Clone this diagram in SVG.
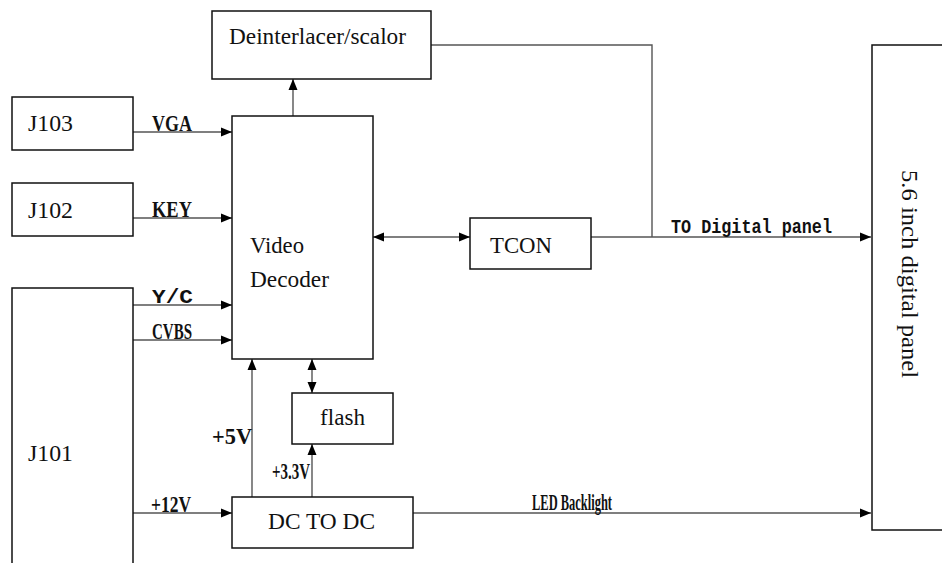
<svg xmlns="http://www.w3.org/2000/svg" width="942" height="563" viewBox="0 0 942 563">
<defs>
<marker id="ah" markerUnits="userSpaceOnUse" markerWidth="12" markerHeight="10" refX="11" refY="5" orient="auto-start-reverse">
<path d="M0,0.5 L11,5 L0,9.5 Z" fill="#000"/>
</marker>
</defs>
<style>
.box{fill:#fff;stroke:#111;stroke-width:1.5}
.lbl{font-family:"Liberation Serif",serif;font-size:23px;fill:#111}
.sig{font-family:"Liberation Serif",serif;font-weight:bold;font-size:24px;fill:#111}
.mono{font-family:"Liberation Mono",monospace;font-weight:bold;font-size:21px;fill:#111}
.ln{fill:none;stroke:#555;stroke-width:1.4}
</style>
<rect width="942" height="563" fill="#fff"/>
<g id="connectors">
<path class="ln" d="M293,116 V79" marker-end="url(#ah)"/>
<path class="ln" d="M133,132 H232" marker-end="url(#ah)"/>
<path class="ln" d="M133,218 H232" marker-end="url(#ah)"/>
<path class="ln" d="M133,305 H232" marker-end="url(#ah)"/>
<path class="ln" d="M133,340 H232" marker-end="url(#ah)"/>
<path class="ln" d="M133,513 H232" marker-end="url(#ah)"/>
<path class="ln" d="M373,237 H470" marker-start="url(#ah)" marker-end="url(#ah)"/>
<path class="ln" d="M591,237 H871" marker-end="url(#ah)"/>
<path class="ln" d="M431,45 H652 V237"/>
<path class="ln" d="M252,497 V359" marker-end="url(#ah)"/>
<path class="ln" d="M312,359 V393" marker-start="url(#ah)" marker-end="url(#ah)"/>
<path class="ln" d="M312,497 V444" marker-end="url(#ah)"/>
<path class="ln" d="M413,513 H871" marker-end="url(#ah)"/>
<text class="sig" x="152" y="131" textLength="40" lengthAdjust="spacingAndGlyphs">VGA</text>
<text class="sig" x="152" y="217" textLength="40" lengthAdjust="spacingAndGlyphs">KEY</text>
<text class="mono" x="152" y="303" textLength="41" lengthAdjust="spacingAndGlyphs">Y/C</text>
<text class="sig" x="152" y="339" textLength="40" lengthAdjust="spacingAndGlyphs">CVBS</text>
<text class="sig" x="212" y="444" font-size="25" textLength="40" lengthAdjust="spacingAndGlyphs">+5V</text>
<text class="sig" x="272" y="479" font-size="23" textLength="38" lengthAdjust="spacingAndGlyphs">+3.3V</text>
<text class="sig" x="151" y="512" textLength="40" lengthAdjust="spacingAndGlyphs">+12V</text>
<text class="mono" x="671" y="233" textLength="161" lengthAdjust="spacingAndGlyphs">TO Digital panel</text>
<text class="sig" x="532" y="510" font-size="17" textLength="80" lengthAdjust="spacingAndGlyphs">LED Backlight</text>
</g>
<g id="deinterlacer">
<rect class="box" x="212" y="11" width="219" height="68"/>
<text class="lbl" x="229" y="44" textLength="177" lengthAdjust="spacingAndGlyphs">Deinterlacer/scalor</text>
</g>
<g id="j103">
<rect class="box" x="12" y="97" width="121" height="53"/>
<text class="lbl" x="28" y="131" textLength="45" lengthAdjust="spacingAndGlyphs">J103</text>
</g>
<g id="j102">
<rect class="box" x="12" y="183" width="121" height="53"/>
<text class="lbl" x="28" y="218" textLength="45" lengthAdjust="spacingAndGlyphs">J102</text>
</g>
<g id="j101">
<rect class="box" x="12" y="288" width="121" height="290"/>
<text class="lbl" x="28" y="461" textLength="45" lengthAdjust="spacingAndGlyphs">J101</text>
</g>
<g id="video-decoder">
<rect class="box" x="232" y="116" width="141" height="243"/>
<text class="lbl" x="250" y="253" textLength="54" lengthAdjust="spacingAndGlyphs">Video</text>
<text class="lbl" x="250" y="287" textLength="79" lengthAdjust="spacingAndGlyphs">Decoder</text>
</g>
<g id="tcon">
<rect class="box" x="470" y="218" width="121" height="51"/>
<text class="lbl" x="490" y="253" textLength="62" lengthAdjust="spacingAndGlyphs">TCON</text>
</g>
<g id="flash">
<rect class="box" x="292" y="393" width="101" height="51"/>
<text class="lbl" x="320" y="425" textLength="45" lengthAdjust="spacingAndGlyphs">flash</text>
</g>
<g id="dc-to-dc">
<rect class="box" x="232" y="497" width="181" height="51"/>
<text class="lbl" x="268" y="529" textLength="107" lengthAdjust="spacingAndGlyphs">DC TO DC</text>
</g>
<g id="panel">
<rect class="box" x="872" y="45" width="80" height="485"/>
<text class="lbl" transform="translate(902,170) rotate(90)" x="0" y="0" font-size="24" textLength="208" lengthAdjust="spacingAndGlyphs">5.6 inch digital panel</text>
</g>
</svg>
